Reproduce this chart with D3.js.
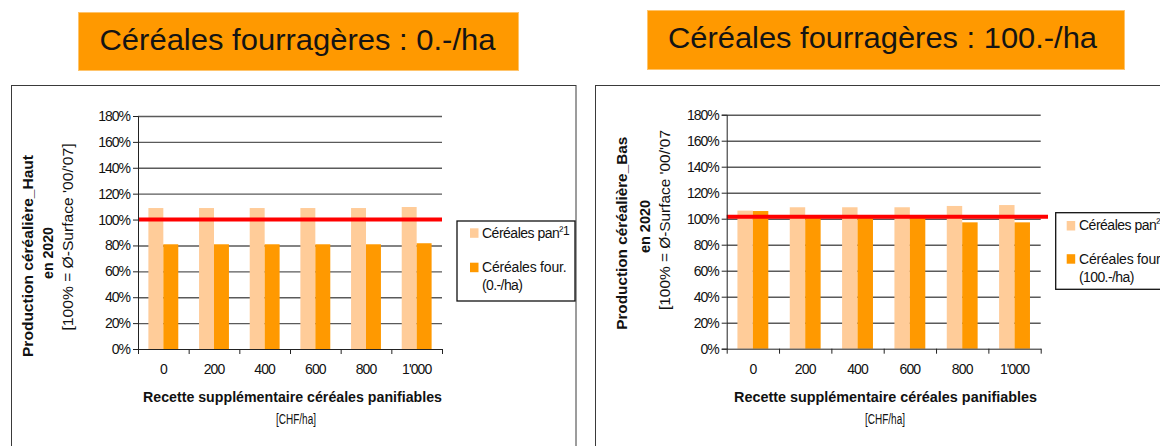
<!DOCTYPE html>
<html><head><meta charset="utf-8">
<script src="https://cdn.jsdelivr.net/npm/d3@7"></script>
<style>
html,body{margin:0;padding:0;background:#fff;}
svg{display:block;font-family:"Liberation Sans",Arial,sans-serif;}
</style></head>
<body><svg id="c" width="1160" height="446"></svg>
<script>
// ---- data ----
const categories = ["0", "200", "400", "600", "800", "1'000"];
const yTicks = [0, 20, 40, 60, 80, 100, 120, 140, 160, 180];
const seriesNames = ["Céréales pan.", "Céréales four."];
const panLeft = [108.9, 108.9, 108.9, 108.9, 108.9, 109.7];
const fourLeft = [80.9, 80.9, 80.9, 80.9, 80.9, 81.7];
const panRight = [106.2, 108.8, 108.8, 108.8, 109.8, 110.5];
const fourRight = [105.9, 101.5, 101.5, 101.5, 97.2, 97.2];
const refLeft = 100;
const refRight = 101.5;
const titles = ["Céréales fourragères : 0.-/ha", "Céréales fourragères : 100.-/ha"];
const yTitleBold = ["Production céréalière_Haut", "Production céréalière_Bas"];
const yTitle2 = "en 2020";
const yTitle3 = ["[100% = Ø-Surface '00/'07]", "[100% = Ø-Surface '00/'07"];
const xTitle = "Recette supplémentaire céréales panifiables";
const xUnit = "[CHF/ha]";
const legendSub = ["(0.-/ha)", "(100.-/ha)"];

const LIGHT = "#FFCC99", DARK = "#FF9900", RED = "#FF0000", GRID = "#5a5a5a";
const svg = d3.select("#c");

function fitText(sel, w) {
  if (w) sel.attr("textLength", w).attr("lengthAdjust", "spacingAndGlyphs");
  return sel;
}

function panel(cfg, pan, four, ref, i) {
  const g = svg.append("g");
  // frame
  g.append("rect").attr("x", cfg.frameX).attr("y", 85.5).attr("width", cfg.frameW).attr("height", 400)
    .attr("fill", "none").attr("stroke", "#3a3a3a").attr("stroke-width", 1);
  // title box
  g.append("rect").attr("x", cfg.tb[0]).attr("y", cfg.tb[1]).attr("width", cfg.tb[2]).attr("height", cfg.tb[3])
    .attr("fill", DARK).attr("stroke", "#FFC46B").attr("stroke-width", 1);
  fitText(g.append("text").attr("x", cfg.tt[0]).attr("y", cfg.tt[1]).attr("font-size", 30)
    .attr("fill", "#141414").text(titles[i]), cfg.tt[2]);

  const y = d3.scaleLinear().domain([0, 180]).range([cfg.y0, cfg.y1]);
  const x = d3.scaleBand().domain(categories).range([cfg.x0, cfg.x1]).paddingInner(0.41).paddingOuter(0.205);
  const xs = d3.scaleBand().domain(seriesNames).range([0, x.bandwidth()]);
  const xb = d3.scaleLinear().domain([0, categories.length]).range([cfg.x0, cfg.x1]);

  // grid
  const grid = g.append("g").attr("transform", `translate(${cfg.x0},0)`)
    .call(d3.axisLeft(y).tickValues(yTicks.slice(1)).tickSize(-(cfg.x1 - cfg.x0)).tickFormat(""));
  grid.select(".domain").remove();
  grid.selectAll("line").attr("stroke", GRID).attr("stroke-width", 1.4);

  // bars
  const rows = categories.map((c, k) => ({c, vals: [pan[k], four[k]]}));
  const grp = g.selectAll(".cat").data(rows).enter().append("g")
    .attr("transform", d => `translate(${x(d.c)},0)`);
  grp.selectAll("rect").data(d => d.vals.map((v, j) => ({v, s: seriesNames[j]}))).enter().append("rect")
    .attr("x", d => xs(d.s)).attr("width", xs.bandwidth())
    .attr("y", d => y(d.v)).attr("height", d => y(0) - y(d.v))
    .attr("fill", (d, j) => j === 0 ? LIGHT : DARK);

  // reference line
  g.append("line").attr("x1", cfg.x0).attr("x2", cfg.redEnd).attr("y1", y(ref)).attr("y2", y(ref))
    .attr("stroke", RED).attr("stroke-width", 4);

  // y axis
  const ya = g.append("g").attr("transform", `translate(${cfg.x0},0)`)
    .call(d3.axisLeft(y).tickValues(yTicks).tickSize(5).tickPadding(3).tickFormat(d => d + "%"));
  ya.selectAll("line,path").attr("stroke", "#222");
  ya.selectAll("text").attr("font-size", 14).attr("letter-spacing", -1).attr("fill", "#111")
    .attr("font-family", "Liberation Sans, Arial, sans-serif");

  // x axis ticks
  const xa = g.append("g").attr("transform", `translate(0,${cfg.y0})`)
    .call(d3.axisBottom(xb).tickValues(d3.range(categories.length + 1)).tickSize(5).tickFormat("").tickSizeOuter(0));
  xa.selectAll("line,path").attr("stroke", "#222");
  // x labels
  const xl = g.append("g").attr("transform", `translate(0,${cfg.y0 + 12})`)
    .call(d3.axisBottom(x).tickSize(0).tickPadding(3));
  xl.select(".domain").remove();
  xl.selectAll("text").attr("font-size", 14).attr("letter-spacing", -0.9).attr("fill", "#111")
    .attr("font-family", "Liberation Sans, Arial, sans-serif");

  // x title
  fitText(g.append("text").attr("x", cfg.xt[0]).attr("y", 401.5).attr("font-size", 15).attr("font-weight", "bold")
    .attr("text-anchor", "middle").attr("fill", "#111").text(xTitle), cfg.xt[1]);
  fitText(g.append("text").attr("x", cfg.xu).attr("y", 424).attr("font-size", 15.5)
    .attr("text-anchor", "middle").attr("fill", "#111").text(xUnit), 40);

  // y titles
  const yt = cfg.yt;
  fitText(g.append("text").attr("transform", `translate(${yt[0][0]},${yt[0][1]}) rotate(-90)`)
    .attr("font-size", 15.5).attr("font-weight", "bold").attr("text-anchor", "middle").attr("fill", "#111")
    .text(yTitleBold[i]), yt[0][2]);
  fitText(g.append("text").attr("transform", `translate(${yt[1][0]},${yt[1][1]}) rotate(-90)`)
    .attr("font-size", 14.5).attr("font-weight", "bold").attr("text-anchor", "middle").attr("fill", "#111")
    .text(yTitle2), yt[1][2]);
  fitText(g.append("text").attr("transform", `translate(${yt[2][0]},${yt[2][1]}) rotate(-90)`)
    .attr("font-size", 15).attr("text-anchor", "middle").attr("fill", "#111")
    .text(yTitle3[i]), yt[2][2]);

  // legend
  const L = cfg.leg;
  g.append("rect").attr("x", L.x).attr("y", L.y).attr("width", L.w).attr("height", L.h)
    .attr("fill", "#fff").attr("stroke", "#111").attr("stroke-width", 1.3);
  g.append("rect").attr("x", L.sx).attr("y", L.s1).attr("width", 8.5).attr("height", 9.5).attr("fill", LIGHT);
  g.append("rect").attr("x", L.sx).attr("y", L.s2).attr("width", 8.5).attr("height", 9.5).attr("fill", DARK);
  const t1 = g.append("text").attr("x", L.tx).attr("y", L.b1).attr("font-size", 14).attr("fill", "#111")
    .attr("letter-spacing", -0.5);
  t1.append("tspan").text("Céréales pan");
  t1.append("tspan").attr("dy", -3).attr("font-size", 12).attr("letter-spacing", -0.2).text("²1");
  g.append("text").attr("x", L.tx).attr("y", L.b2).attr("font-size", 14).attr("fill", "#111")
    .attr("letter-spacing", -0.2).text("Céréales four.");
  g.append("text").attr("x", L.tx).attr("y", L.b3).attr("font-size", 14).attr("fill", "#111")
    .attr("letter-spacing", -0.6).text(legendSub[i]);
}

panel({
  frameX: 11.5, frameW: 564.5,
  tb: [78.5, 12.5, 440, 58], tt: [99.5, 50, 396],
  x0: 138, x1: 442, y0: 349, y1: 116, redEnd: 442,
  xt: [292.5, 299], xu: 296,
  yt: [[32.5, 256, 202], [53, 253, 52], [73, 237, 187]],
  leg: {x: 457, y: 221, w: 118, h: 80, sx: 470, s1: 228.3, s2: 262.7, tx: 482, b1: 237.7, b2: 272.3, b3: 289.8}
}, panLeft, fourLeft, refLeft, 0);

panel({
  frameX: 595.5, frameW: 600,
  tb: [647.5, 10.5, 477, 59], tt: [668, 48.3, 429],
  x0: 726.7, x1: 1040.7, y0: 348.7, y1: 114.7, redEnd: 1048,
  xt: [885.5, 303], xu: 885,
  yt: [[626.5, 233.3, 193], [650.3, 226.5, 53], [669.5, 220, 180]],
  leg: {x: 1055.7, y: 212.7, w: 130, h: 76.6, sx: 1066.7, s1: 221, s2: 254.2, tx: 1079, b1: 230.3, b2: 264.3, b3: 282}
}, panRight, fourRight, refRight, 1);
</script>
</body></html>
